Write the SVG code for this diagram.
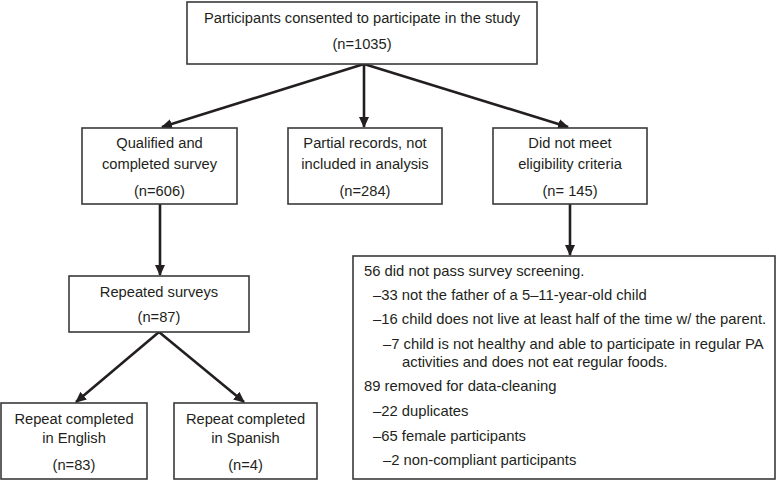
<svg xmlns="http://www.w3.org/2000/svg" width="778" height="480" viewBox="0 0 778 480">
<style>
.box{fill:#fff;stroke:#3a3a3a;stroke-width:1.6}
.t{font-family:"Liberation Sans",Arial,sans-serif;font-size:14.7px;fill:#231f20;text-anchor:middle}
.l{font-family:"Liberation Sans",Arial,sans-serif;font-size:14.8px;fill:#231f20}
.c{stroke:#231f20;stroke-width:2.6;fill:none;marker-end:url(#ah)}
</style>
<defs>
<marker id="ah" markerWidth="12" markerHeight="12" refX="10" refY="6" orient="auto" markerUnits="userSpaceOnUse" viewBox="0 0 12 12">
<path d="M0,1 L11,6 L0,11 Z" fill="#231f20"/>
</marker>
</defs>
<rect width="778" height="480" fill="#fff"/>
<g id="connectors">
<path class="c" d="M364,64 L162,127"/>
<path class="c" d="M364,64 L364,127"/>
<path class="c" d="M364,64 L568,127"/>
<path class="c" d="M160,204 L160,275"/>
<path class="c" d="M570,204 L570,255"/>
<path class="c" d="M159,332 L76,402"/>
<path class="c" d="M159,332 L244,402"/>
</g>
<g id="n-consented">
<rect class="box" x="187" y="2" width="350" height="62"/>
<text class="t" x="362" y="23">Participants consented to participate in the study</text>
<text class="t" x="362" y="49">(n=1035)</text>
</g>
<g id="n-qualified">
<rect class="box" x="82" y="128" width="155" height="76"/>
<text class="t" x="159.5" y="148">Qualified and</text>
<text class="t" x="159.5" y="169">completed survey</text>
<text class="t" x="159.5" y="196">(n=606)</text>
</g>
<g id="n-partial">
<rect class="box" x="288" y="128" width="154" height="76"/>
<text class="t" x="365" y="148">Partial records, not</text>
<text class="t" x="365" y="169">included in analysis</text>
<text class="t" x="365" y="196">(n=284)</text>
</g>
<g id="n-noteligible">
<rect class="box" x="493" y="128" width="154" height="76"/>
<text class="t" x="570" y="148">Did not meet</text>
<text class="t" x="570" y="169">eligibility criteria</text>
<text class="t" x="570" y="196">(n= 145)</text>
</g>
<g id="n-repeated">
<rect class="box" x="69" y="276" width="180" height="56"/>
<text class="t" x="159" y="297">Repeated surveys</text>
<text class="t" x="159" y="322">(n=87)</text>
</g>
<g id="n-english">
<rect class="box" x="1" y="403" width="146" height="76"/>
<text class="t" x="74" y="424">Repeat completed</text>
<text class="t" x="74" y="443">in English</text>
<text class="t" x="74" y="470">(n=83)</text>
</g>
<g id="n-spanish">
<rect class="box" x="174" y="403" width="143" height="76"/>
<text class="t" x="245.5" y="424">Repeat completed</text>
<text class="t" x="245.5" y="443">in Spanish</text>
<text class="t" x="245.5" y="470">(n=4)</text>
</g>
<g id="n-details">
<rect class="box" x="353" y="256" width="422" height="223"/>
<text class="l" x="364" y="276">56 did not pass survey screening.</text>
<text class="l" x="373" y="300">–33 not the father of a 5–11-year-old child</text>
<text class="l" x="373" y="324">–16 child does not live at least half of the time w/ the parent.</text>
<text class="l" x="383" y="349">–7 child is not healthy and able to participate in regular PA</text>
<text class="l" x="402" y="367">activities and does not eat regular foods.</text>
<text class="l" x="364" y="391">89 removed for data-cleaning</text>
<text class="l" x="373" y="416">–22 duplicates</text>
<text class="l" x="373" y="441">–65 female participants</text>
<text class="l" x="383" y="465">–2 non-compliant participants</text>
</g>
</svg>
